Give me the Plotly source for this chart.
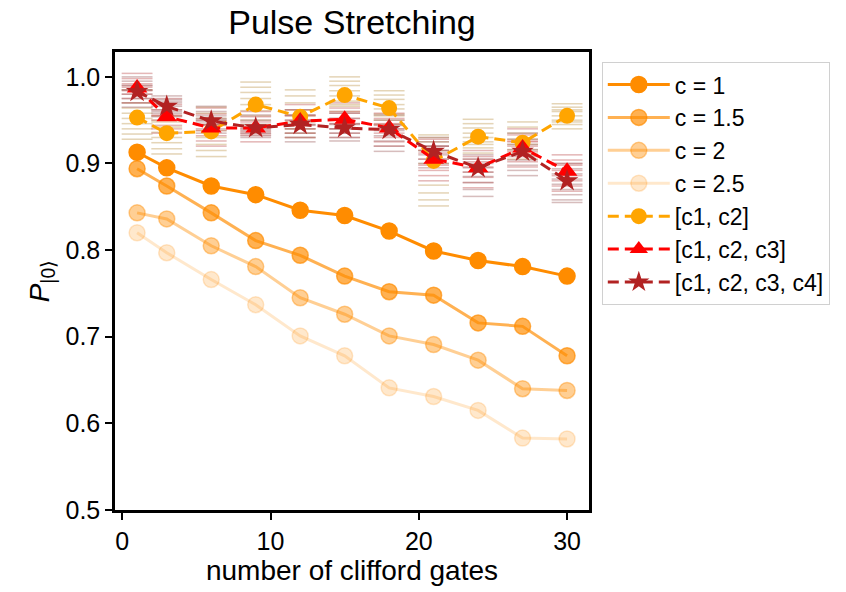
import plotly.graph_objects as go

# ---------------- data ----------------
gates = [1, 3, 6, 9, 12, 15, 18, 21, 24, 27, 30]

c_labels = ["c = 1", "c = 1.5", "c = 2", "c = 2.5"]
c_alpha = [1.0, 0.68, 0.42, 0.2]
p_c1 = [0.913, 0.895, 0.874, 0.864, 0.846, 0.840, 0.822, 0.799, 0.788, 0.781, 0.770]
p_c15 = [0.894, 0.874, 0.843, 0.811, 0.794, 0.770, 0.752, 0.748, 0.716, 0.712, 0.678]
p_c2 = [0.843, 0.836, 0.805, 0.781, 0.745, 0.726, 0.701, 0.691, 0.673, 0.640, 0.638]
p_c25 = [0.820, 0.797, 0.766, 0.737, 0.701, 0.678, 0.641, 0.631, 0.615, 0.583, 0.582]

mix_labels = ["[c1, c2]", "[c1, c2, c3]", "[c1, c2, c3, c4]"]
p_c12 = [0.953, 0.935, 0.937, 0.968, 0.954, 0.979, 0.964, 0.903, 0.931, 0.924, 0.955]
p_c123 = [0.987, 0.954, 0.941, 0.941, 0.949, 0.951, 0.941, 0.905, 0.895, 0.918, 0.891]
p_c1234 = [0.983, 0.966, 0.949, 0.941, 0.945, 0.941, 0.939, 0.914, 0.895, 0.914, 0.880]

# individual runs (short horizontal dashes)
runs_c12 = [
    [0.928, 0.934, 0.940, 0.946, 0.952, 0.958, 0.964, 0.970, 0.985],
    [0.911, 0.917, 0.924, 0.930, 0.936, 0.942, 0.948, 0.955, 0.950],
    [0.908, 0.915, 0.922, 0.930, 0.938, 0.945, 0.952, 0.958, 0.965],
    [0.994, 0.988, 0.982, 0.975, 0.968, 0.961, 0.955, 0.950, 0.945],
    [0.985, 0.978, 0.970, 0.962, 0.955, 0.948, 0.940, 0.935, 0.930],
    [1.000, 0.995, 0.990, 0.984, 0.978, 0.972, 0.966, 0.960, 0.968],
    [0.984, 0.979, 0.974, 0.968, 0.963, 0.957, 0.950, 0.945, 0.955],
    [0.851, 0.858, 0.866, 0.875, 0.900, 0.915, 0.925, 0.930, 0.933],
    [0.951, 0.946, 0.941, 0.935, 0.930, 0.925, 0.918, 0.912, 0.922],
    [0.948, 0.942, 0.935, 0.928, 0.922, 0.916, 0.910, 0.905, 0.912],
    [0.969, 0.965, 0.960, 0.955, 0.950, 0.945, 0.940, 0.948, 0.962],
]
runs_c123 = [
    [1.004, 0.998, 0.992, 0.988, 0.984, 0.980, 0.975, 0.970, 0.990],
    [0.975, 0.968, 0.962, 0.956, 0.950, 0.944, 0.940, 0.935, 0.955],
    [0.964, 0.957, 0.950, 0.944, 0.938, 0.932, 0.926, 0.920, 0.945],
    [0.960, 0.954, 0.948, 0.942, 0.937, 0.933, 0.935, 0.940, 0.925],
    [0.968, 0.962, 0.956, 0.950, 0.944, 0.940, 0.935, 0.930, 0.955],
    [0.970, 0.964, 0.958, 0.952, 0.946, 0.940, 0.935, 0.930, 0.960],
    [0.958, 0.952, 0.946, 0.940, 0.935, 0.930, 0.925, 0.920, 0.945],
    [0.928, 0.920, 0.912, 0.905, 0.898, 0.892, 0.886, 0.880, 0.915],
    [0.915, 0.908, 0.902, 0.896, 0.890, 0.884, 0.878, 0.872, 0.905],
    [0.940, 0.933, 0.926, 0.920, 0.914, 0.908, 0.902, 0.896, 0.925],
    [0.910, 0.904, 0.898, 0.892, 0.886, 0.880, 0.874, 0.868, 0.900],
]
runs_c1234 = [
    [1.000, 0.995, 0.990, 0.985, 0.980, 0.975, 0.970, 0.965, 0.985],
    [0.978, 0.974, 0.970, 0.966, 0.962, 0.958, 0.954, 0.960, 0.972],
    [0.966, 0.960, 0.955, 0.950, 0.945, 0.940, 0.935, 0.948, 0.952],
    [0.956, 0.950, 0.945, 0.940, 0.935, 0.932, 0.938, 0.943, 0.930],
    [0.962, 0.956, 0.950, 0.945, 0.940, 0.935, 0.930, 0.925, 0.945],
    [0.958, 0.952, 0.946, 0.940, 0.935, 0.930, 0.926, 0.940, 0.945],
    [0.956, 0.950, 0.944, 0.938, 0.932, 0.926, 0.920, 0.914, 0.940],
    [0.930, 0.925, 0.920, 0.915, 0.910, 0.905, 0.900, 0.895, 0.920],
    [0.910, 0.905, 0.900, 0.895, 0.890, 0.885, 0.878, 0.870, 0.862],
    [0.935, 0.928, 0.922, 0.916, 0.910, 0.904, 0.898, 0.892, 0.886],
    [0.900, 0.894, 0.888, 0.882, 0.876, 0.870, 0.864, 0.858, 0.855],
]

yticks = [0.5, 0.6, 0.7, 0.8, 0.9, 1.0]
xticks = [0, 10, 20, 30]

# ---------------- figure ----------------
FONT = "Liberation Sans, Arial, Helvetica, sans-serif"
fig = go.Figure()

run_sets = [runs_c12, runs_c123, runs_c1234]
run_rgb = [(255, 165, 0), (255, 0, 0), (178, 34, 34)]
for runs, rgb in zip(run_sets, run_rgb):
    xs, ys = [], []
    for g, vals in zip(gates, runs):
        for v in vals:
            xs.append(g)
            ys.append(v)
    fig.add_trace(go.Scatter(
        x=xs, y=ys, mode="markers", showlegend=False, hoverinfo="skip",
        marker=dict(symbol="line-ew", size=22,
                    line=dict(color="rgba(160,160,160,0.33)", width=1.5))))
    fig.add_trace(go.Scatter(
        x=xs, y=ys, mode="markers", showlegend=False, hoverinfo="skip",
        marker=dict(symbol="line-ew", size=22,
                    line=dict(color="rgba(%d,%d,%d,0.18)" % rgb, width=1.5))))

for label, vals, a in zip(c_labels, [p_c1, p_c15, p_c2, p_c25], c_alpha):
    col = "rgba(255,140,0,%.2f)" % a
    fig.add_trace(go.Scatter(
        x=gates, y=vals, name=label, mode="lines+markers",
        line=dict(color=col, width=3),
        marker=dict(symbol="circle", size=16, color=col,
                    line=dict(color=col, width=1.5))))

mix_vals = [p_c12, p_c123, p_c1234]
mix_cols = ["#FFA500", "#FF0000", "#B22222"]
mix_syms = ["circle", "triangle-up", "star"]
mix_sizes = [16, 18, 17]
for label, vals, col, sym, sz in zip(mix_labels, mix_vals, mix_cols, mix_syms, mix_sizes):
    fig.add_trace(go.Scatter(
        x=gates, y=vals, name=label, mode="lines+markers",
        line=dict(color=col, width=3, dash="11px,6px"),
        marker=dict(symbol=sym, size=sz, color=col, line=dict(width=0))))

axis_common = dict(
    showline=True, linecolor="black", linewidth=2.5, mirror=True,
    ticks="outside", ticklen=7, tickwidth=2, tickcolor="black",
    showgrid=False, zeroline=False,
    tickfont=dict(family=FONT, size=25, color="black"),
)

fig.update_layout(
    width=846, height=592,
    margin=dict(l=115, r=257, t=52, b=80),
    paper_bgcolor="white", plot_bgcolor="white",
    font=dict(family=FONT, color="black"),
    title=dict(text="Pulse Stretching", x=(115 + 589) / 2 / 846, xanchor="center",
               y=1 - 22 / 592, yanchor="middle",
               font=dict(family=FONT, size=34, color="black")),
    xaxis=dict(range=[-0.49, 31.48], tickvals=xticks,
               title=dict(text="number of clifford gates", standoff=6,
                          font=dict(family=FONT, size=28, color="black")),
               **axis_common),
    yaxis=dict(range=[0.5, 1.0287], tickvals=yticks, tickformat=".1f",
               title=dict(text="<i>P</i><sub>|0⟩</sub>", standoff=8,
                          font=dict(family=FONT, size=28, color="black")),
               **axis_common),
    legend=dict(x=1.027, y=0.978, xanchor="left", yanchor="top",
                bgcolor="white", bordercolor="#d0d0d0", borderwidth=1,
                font=dict(family=FONT, size=23, color="black"),
                itemwidth=62, tracegroupgap=0),
    showlegend=True,
)

fig.write_html("out.html")
